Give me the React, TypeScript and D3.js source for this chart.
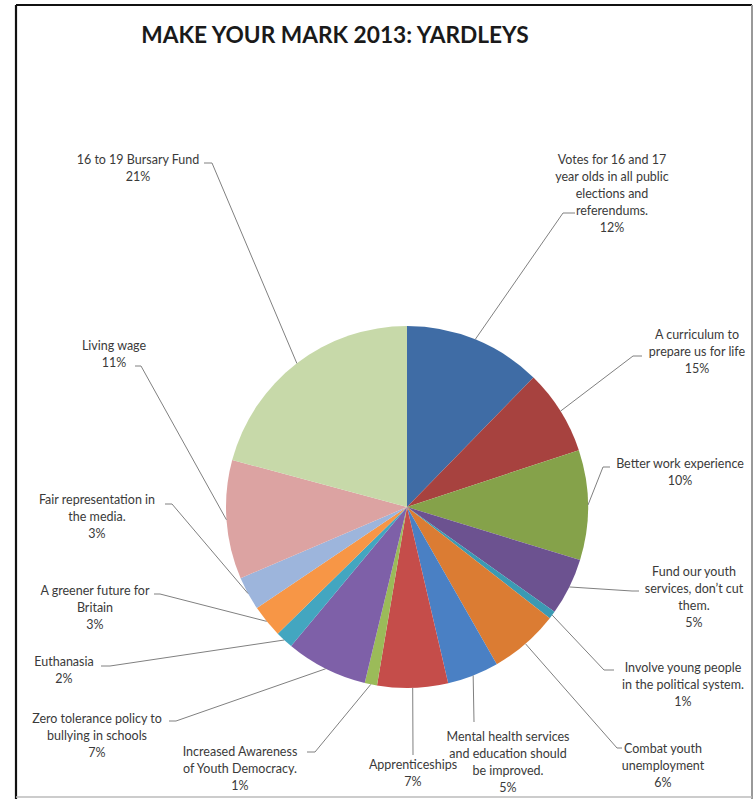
import React from "react";
import * as d3 from "d3";

const categories = [
  "Votes for 16 and 17 year olds in all public elections and referendums.",
  "A curriculum to prepare us for life",
  "Better work experience",
  "Fund our youth services, don't cut them.",
  "Involve young people in the political system.",
  "Combat youth unemployment",
  "Mental health services and education should be improved.",
  "Apprenticeships",
  "Increased Awareness of Youth Democracy.",
  "Zero tolerance policy to bullying in schools",
  "Euthanasia",
  "A greener future for Britain",
  "Fair representation in the media.",
  "Living wage",
  "16 to 19 Bursary Fund",
];

// slice sizes (percent)
const values = [12.3, 7.6, 9.8, 5.1, 0.7, 6.2, 4.6, 6.3, 1.1, 7.3, 1.6, 2.9, 3.0, 10.6, 20.8];

// percentage labels as printed on the chart
const pctLabels = ["12%", "15%", "10%", "5%", "1%", "6%", "5%", "7%", "1%", "7%", "2%", "3%", "3%", "11%", "21%"];

// wrapped label lines (text)
const labelLines = [
  ["Votes for 16 and 17", "year olds in all public", "elections and", "referendums."],
  ["A curriculum to", "prepare us for life"],
  ["Better work experience"],
  ["Fund our youth", "services, don\u2019t cut", "them."],
  ["Involve young people", "in the political system."],
  ["Combat youth", "unemployment"],
  ["Mental health services", "and education should", "be improved."],
  ["Apprenticeships"],
  ["Increased Awareness", "of Youth Democracy."],
  ["Zero tolerance policy to", "bullying in schools"],
  ["Euthanasia"],
  ["A greener future for", "Britain"],
  ["Fair representation in", "the media."],
  ["Living wage"],
  ["16 to 19 Bursary Fund"],
];

const colors = [
  "#3F6CA5", "#A7423F", "#85A24A", "#6C5290", "#3B9AB3", "#DB7C33", "#4A80C4",
  "#C54D4A", "#9BBB59", "#7E60A8", "#43A6C0", "#F79646", "#9DB5DC", "#DCA3A2", "#C7D9A9",
];

// layout: label centre x, first line y, leader elbow (ex,ey), horizontal end hx
const labelLayout = [
  { x: 612, y: 161, ex: 563, ey: 213, hx: 575 },
  { x: 697, y: 336, ex: 633, ey: 356, hx: 642 },
  { x: 680, y: 465, ex: 603, ey: 467, hx: 610 },
  { x: 694, y: 573, ex: 632, ey: 591, hx: 639 },
  { x: 683, y: 669, ex: 604, ey: 670, hx: 614 },
  { x: 663, y: 750, ex: 617, ey: 748, hx: 622 },
  { x: 508, y: 738, ex: 474, ey: 722, hx: 474 },
  { x: 413, y: 766, ex: 413, ey: 755, hx: 413 },
  { x: 240, y: 753, ex: 315, ey: 752, hx: 307 },
  { x: 97, y: 720, ex: 176, ey: 721, hx: 169 },
  { x: 64, y: 663, ex: 110, ey: 666, hx: 101 },
  { x: 95, y: 592, ex: 160, ey: 594, hx: 154 },
  { x: 97, y: 501, ex: 172, ey: 504, hx: 165 },
  { x: 114, y: 347, ex: 141, ey: 366, hx: 135 },
  { x: 138, y: 161, ex: 212, ey: 163, hx: 204 },
];

const W = 756;
const H = 799;
const cx = 407;
const cy = 507;
const R = 181;
const lineH = 17;

export default function App() {
  const pie = d3.pie<number>().sort(null).value((d) => d)(values);
  const arc = d3.arc<d3.PieArcDatum<number>>().innerRadius(0).outerRadius(R);
  const font = "Lato, 'Open Sans', sans-serif";

  return (
    <svg
      width={W}
      height={H}
      viewBox={`0 0 ${W} ${H}`}
      style={{ position: "absolute", left: 0, top: 0, background: "#fff" }}
    >
      <rect x={0} y={0} width={W} height={H} fill="#fff" />
      {/* frame */}
      <line x1={16} y1={5} x2={752} y2={5} stroke="#111" strokeWidth={2.2} />
      <line x1={16} y1={5} x2={16} y2={799} stroke="#111" strokeWidth={2.2} />
      <line x1={752} y1={5} x2={752} y2={799} stroke="#999" strokeWidth={2} />
      <line x1={16} y1={797} x2={752} y2={797} stroke="#bbb" strokeWidth={1.5} />

      <text
        x={335}
        y={37}
        textAnchor="middle"
        dominantBaseline="middle"
        fontFamily={font}
        fontWeight={700}
        fontSize={22.7}
        fill="#1a1a1a"
      >
        MAKE YOUR MARK 2013: YARDLEYS
      </text>

      <g transform={`translate(${cx},${cy})`}>
        {pie.map((d, i) => (
          <path key={categories[i]} d={arc(d) || ""} fill={colors[i]} />
        ))}
      </g>

      {pie.map((d, i) => {
        const a = (d.startAngle + d.endAngle) / 2;
        const px = cx + R * Math.sin(a);
        const py = cy - R * Math.cos(a);
        const L = labelLayout[i];
        const pts: [number, number][] = [
          [px, py],
          [L.ex, L.ey],
          [L.hx, L.ey],
        ];
        return (
          <path
            key={"l" + i}
            d={d3.line()(pts) || ""}
            fill="none"
            stroke="#808080"
            strokeWidth={1}
          />
        );
      })}

      {labelLayout.map((L, i) => {
        const lines = [...labelLines[i], pctLabels[i]];
        return (
          <text
            key={"t" + i}
            textAnchor="middle"
            dominantBaseline="middle"
            fontFamily={font}
            fontSize={12.5}
            fill="#3a3a3a"
          >
            {lines.map((s, j) => (
              <tspan key={j} x={L.x} y={L.y + j * lineH}>
                {s}
              </tspan>
            ))}
          </text>
        );
      })}
    </svg>
  );
}
